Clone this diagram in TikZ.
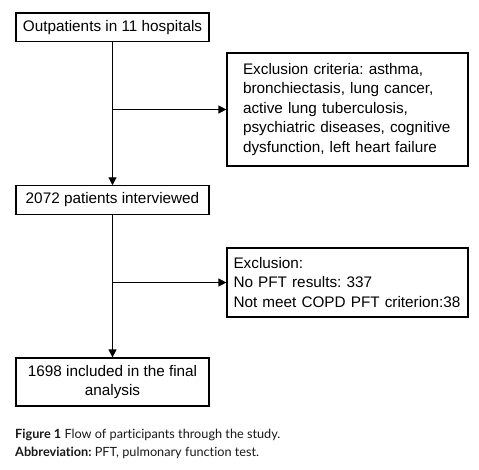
\documentclass[tikz,border=0pt]{standalone}
\usepackage{fontspec}
\setmainfont{Liberation Sans}
\newfontfamily\capfont[Ligatures={NoCommon,NoRare,NoDiscretionary}]{Lato}
\usetikzlibrary{arrows.meta}
\frenchspacing
\begin{document}
\begin{tikzpicture}[x=1pt,y=-1pt,
  box/.style={draw=black, line width=1.2pt, inner sep=0pt, font=\frenchspacing\fontsize{15.3}{19.5}\selectfont},
  flow/.style={line width=1.2pt, -{Triangle[length=8pt,width=8pt]}},
  captext/.style={anchor=west, inner sep=0pt, font=\frenchspacing\capfont\fontsize{12.7}{15}\selectfont, text=black!90}]
\useasboundingbox (0,0) rectangle (479,469);
\node[box, minimum width=193pt, minimum height=28.7pt, align=center] (b1) at (112.5,27.3) {Outpatients in 11 hospitals};
\node[box, minimum width=241pt, minimum height=113pt, text width=209pt, align=left] (e1) at (347.5,109.5) {Exclusion criteria: asthma,\\bronchiectasis, lung cancer,\\active lung tuberculosis,\\psychiatric diseases, cognitive\\dysfunction, left heart failure};
\node[box, minimum width=193pt, minimum height=28.3pt, align=center] (b2) at (112.5,200) {2072 patients interviewed};
\node[box, minimum width=241pt, minimum height=69pt, text width=228pt, align=left] (e2) at (347.5,282.5) {Exclusion:\\No PFT results: 337\\Not meet COPD PFT criterion:38};
\node[box, minimum width=193pt, minimum height=48pt, align=center] (b3) at (112.5,382) {1698 included in the final\\analysis};
\coordinate (j1) at (b1.south |- e1.west);
\coordinate (j2) at (b2.south |- e2.west);
\draw[flow] (b1.south) -- (b2.north);
\draw[flow] (j1) -- (e1.west);
\draw[flow] (b2.south) -- (b3.north);
\draw[flow] (j2) -- (e2.west);
\node[captext] (c1) at (15,435) {\textbf{Figure 1} Flow of participants through the study.};
\node[captext] (c2) at (15,453) {\textbf{Abbreviation:} PFT, pulmonary function test.};
\end{tikzpicture}
\end{document}
